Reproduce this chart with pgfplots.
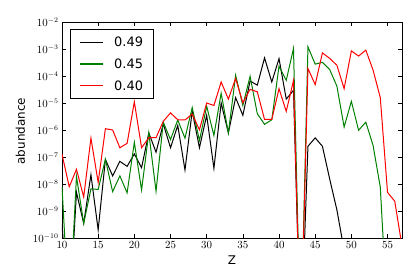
\documentclass[border=0pt]{standalone}
\usepackage{fontspec}
\setmainfont{DejaVu Sans}
\usepackage{pgfplots}
\pgfplotsset{compat=1.18}
\definecolor{mplgreen}{rgb}{0,0.5,0}
\begin{document}
\begin{tikzpicture}
\useasboundingbox (-62bp,-42bp) rectangle (353bp,238bp);
\begin{axis}[
  at={(0,0)}, anchor=south west,
  scale only axis,
  width=340bp, height=216bp,
  ymode=log, log basis y=10,
  xmin=10, xmax=57,
  ymin=1e-10, ymax=1e-2,
  xtick={10,15,...,55},
  ytickten={-10,-9,...,-2},
  axis line style={line width=0.9bp},
  tick style={black, line width=0.6bp},
  major tick length=4bp,
  minor tick length=2bp,
  tick label style={font=\fontsize{10.5}{12}\selectfont},
  xlabel={Z}, ylabel={abundance},
  label style={font=\fontsize{12}{14}\selectfont},
  xlabel style={at={(axis description cs:0.5,-0.102)}, anchor=center},
  ylabel style={at={(axis description cs:-0.1226,0.495)}, anchor=center, rotate=0},
  legend style={at={(0.0235,0.968)}, anchor=north west, draw=black, line width=1bp,
    font=\fontsize{13}{15}\selectfont, row sep=5.7bp, inner xsep=8.5bp, inner ysep=4.8bp,
    nodes={inner ysep=0bp, text height=12.5bp, text depth=3.5bp},
    /tikz/every odd column/.append style={column sep=9bp}},
  legend cell align=left,
  legend image code/.code={\draw[#1, line width=1.2bp] (0bp,0bp) -- (23bp,0bp);},
  every axis plot/.append style={line width=1bp},
]
\addplot[black] coordinates {
(10,3.2e-10)(11,1e-13)(12,4.9e-9)(13,3.5e-10)(14,2.2e-8)(15,2.0e-10)(16,8.1e-8)(17,2.0e-8)(18,6.9e-8)(19,4.5e-8)
(20,1.3e-7)(21,4.0e-8)(22,7.8e-7)(23,1.5e-7)(24,1.7e-6)(25,2.2e-7)(26,1.48e-6)(27,3.3e-8)(28,5.0e-6)(29,2.2e-7)
(30,3.5e-6)(31,3.8e-8)(32,1.0e-5)(33,7.8e-7)(34,1.58e-5)(35,3.5e-6)(36,6.5e-5)(37,4.6e-5)(38,4.7e-4)(39,6.0e-5)
(40,4.4e-4)(41,1.4e-5)(42,2.95e-5)(43,1e-14)(44,2.5e-7)(45,5.1e-7)(46,2.5e-7)(47,1.55e-8)(48,1.1e-9)(49,3.5e-11)
};
\addlegendentry{0.49}
\addplot[mplgreen] coordinates {
(10,7.9e-9)(11,1e-13)(12,1.9e-8)(13,3.5e-10)(14,6.6e-9)(15,6.3e-9)(16,8.3e-8)(17,5.2e-9)(18,2.0e-8)(19,4.7e-9)
(20,3.5e-7)(21,6.0e-9)(22,7.8e-7)(23,5.4e-9)(24,1.95e-6)(25,4.4e-7)(26,2.35e-6)(27,5.0e-7)(28,6.8e-6)(29,4.1e-7)
(30,7.6e-6)(31,6.3e-7)(32,2.3e-5)(33,7.8e-7)(34,1.07e-4)(35,8.1e-6)(36,9.8e-5)(37,4.0e-6)(38,1.62e-6)(39,2.4e-6)
(40,2.3e-4)(41,6.9e-5)(42,1.05e-3)(43,1e-14)(44,1.2e-3)(45,2.75e-4)(46,3.2e-4)(47,1.74e-4)(48,4.2e-5)(49,1.29e-6)
(50,1.15e-5)(51,9.8e-7)(52,1.95e-6)(53,2.7e-7)(54,7.6e-9)(55,1e-13)
};
\addlegendentry{0.45}
\addplot[red] coordinates {
(10,1.26e-7)(11,7.9e-9)(12,3.5e-8)(13,3.3e-9)(14,5.0e-7)(15,1.15e-8)(16,1.12e-6)(17,1.0e-6)(18,2.2e-7)(19,3.2e-7)
(20,1.1e-5)(21,2.2e-7)(22,5.2e-7)(23,5.2e-7)(24,2.1e-6)(25,4.3e-6)(26,2.4e-6)(27,2.35e-6)(28,3.9e-6)(29,1.02e-6)
(30,1.0e-5)(31,8.1e-6)(32,6.0e-5)(33,1.4e-5)(34,8.1e-5)(35,1.02e-5)(36,3.2e-5)(37,2.6e-5)(38,2.45e-6)(39,2.45e-6)
(40,3.4e-5)(41,4.9e-6)(42,6.8e-5)(43,1e-14)(44,1.9e-4)(45,4.8e-5)(46,7.2e-4)(47,4.5e-4)(48,2.5e-4)(49,3.4e-5)
(50,8.5e-4)(51,5.5e-4)(52,9.1e-4)(53,1.66e-4)(54,1.58e-5)(55,4.9e-9)(56,2.3e-9)(57,5e-11)
};
\addlegendentry{0.40}
\end{axis}
\end{tikzpicture}
\end{document}
